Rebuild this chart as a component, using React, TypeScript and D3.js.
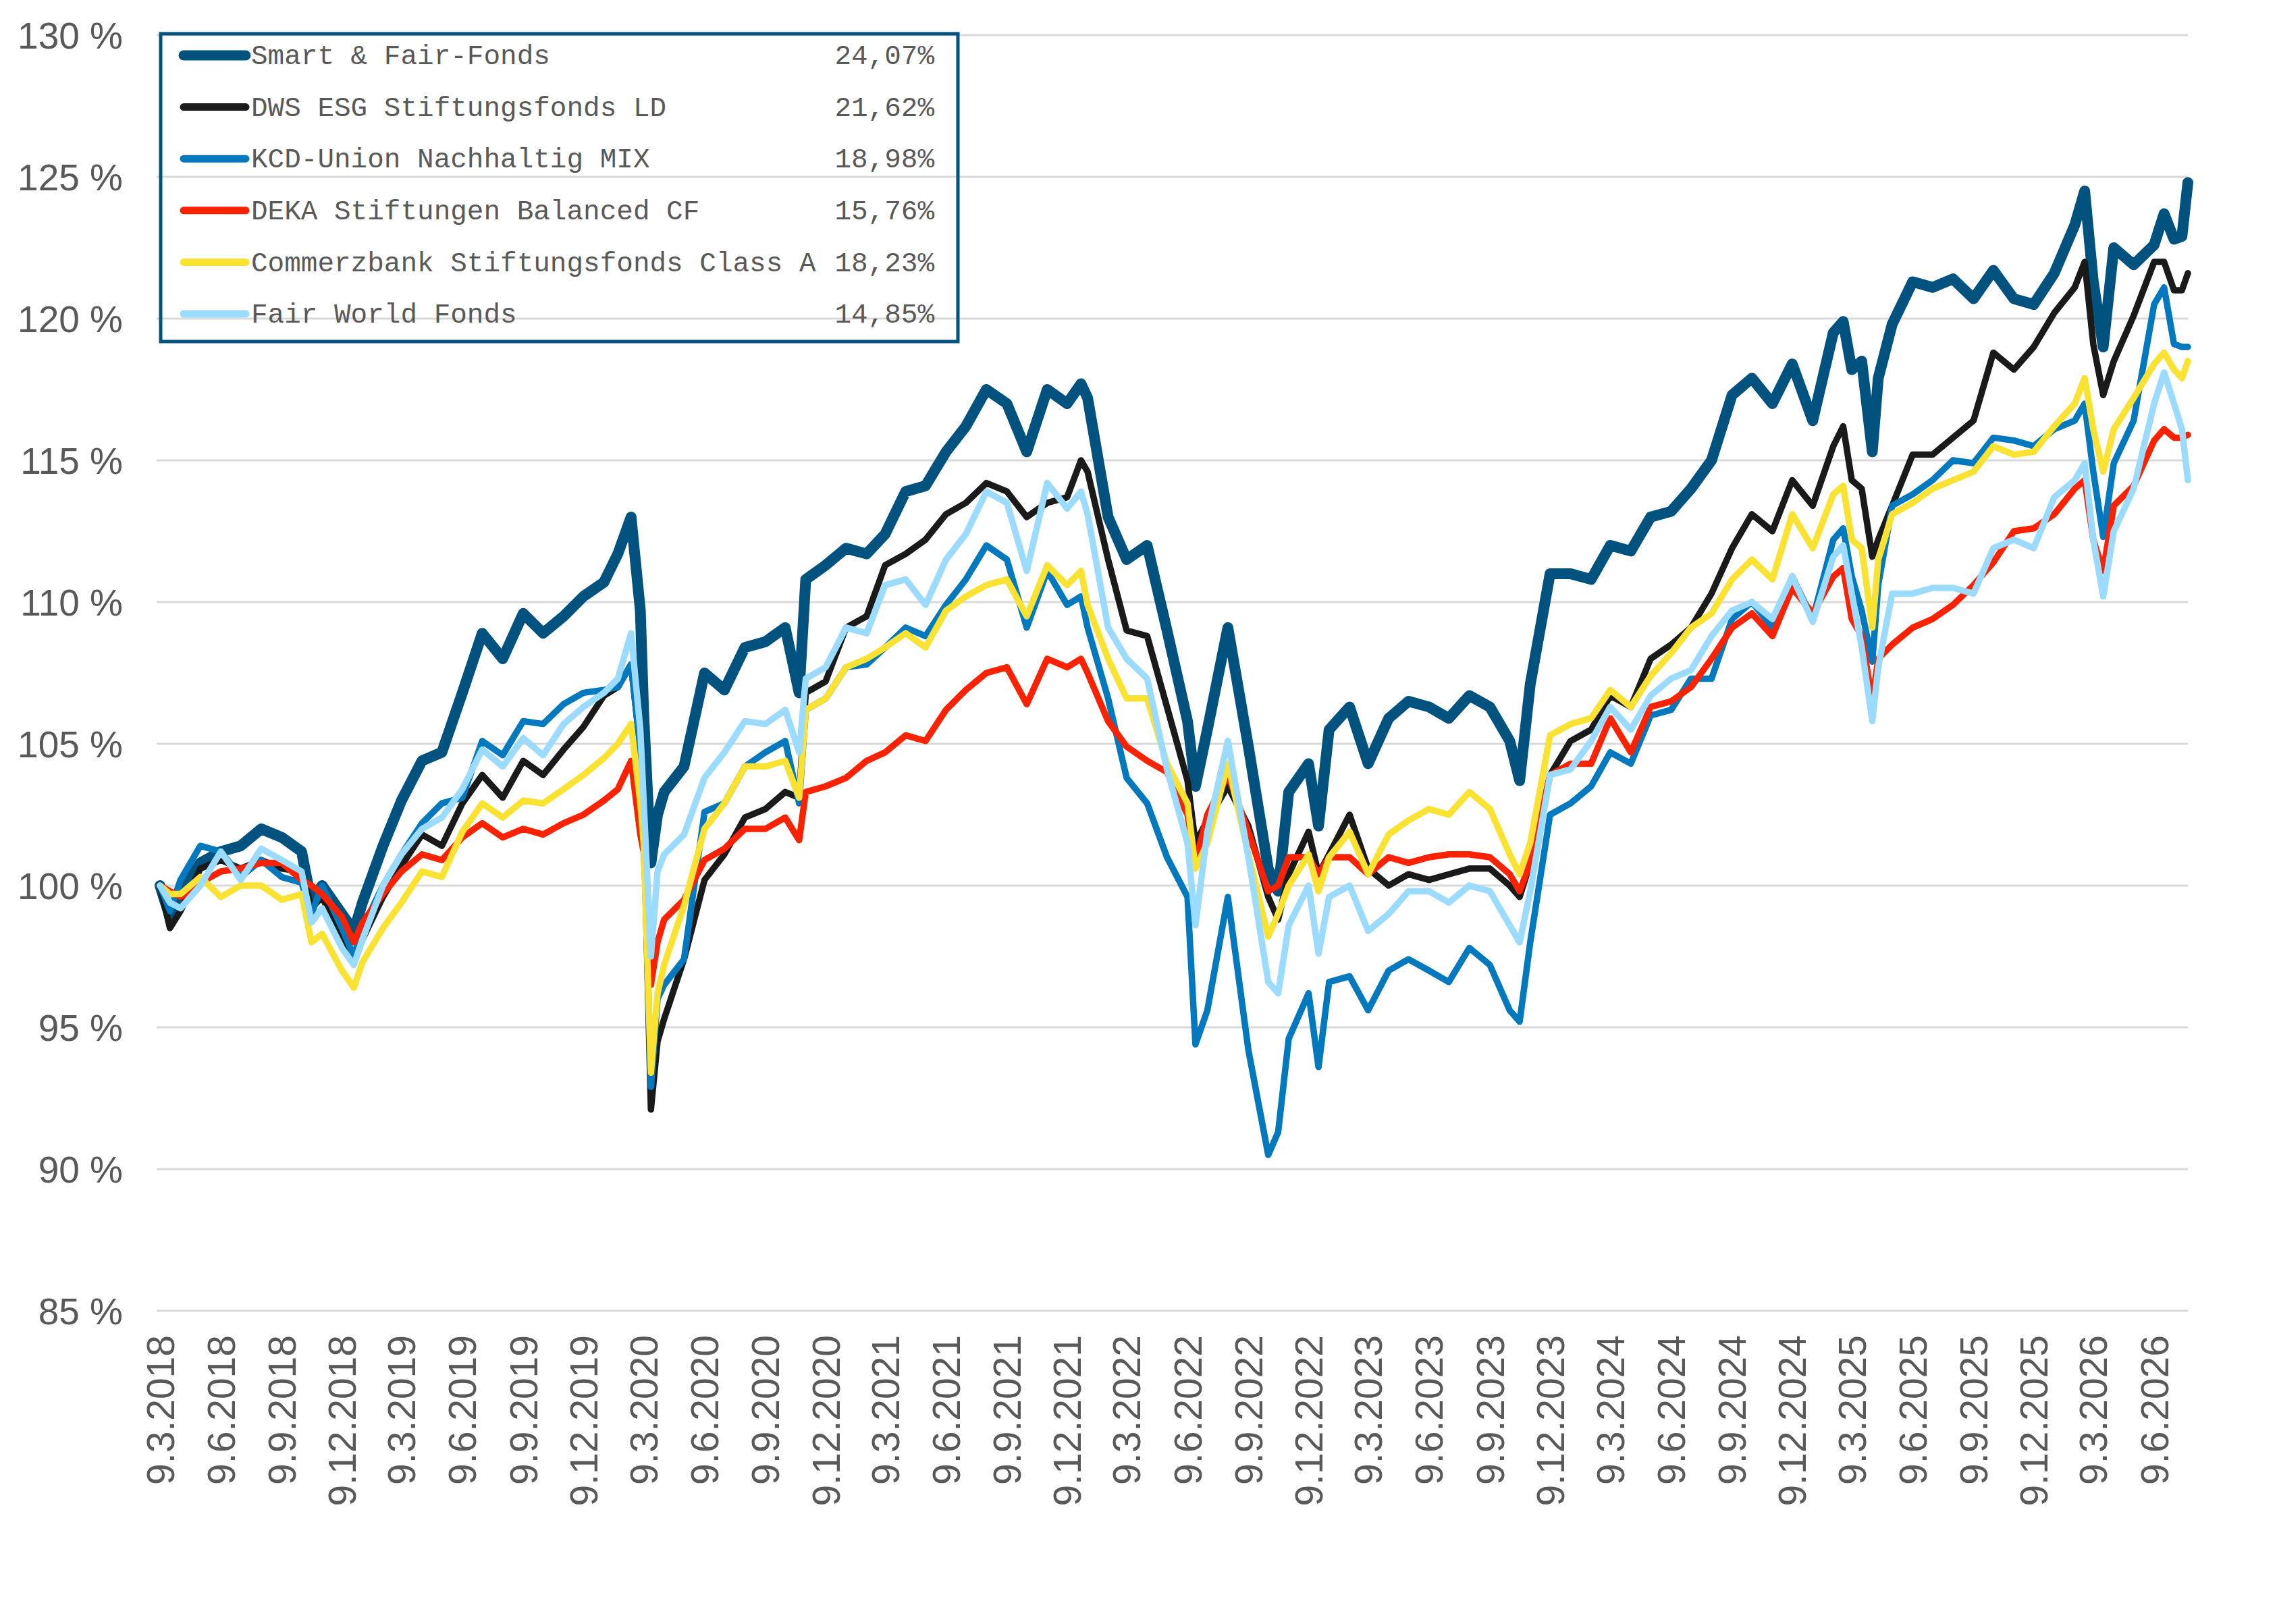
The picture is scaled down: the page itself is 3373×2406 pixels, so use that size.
import React, { useEffect, useRef } from 'react';
import * as d3 from 'd3';

// observation dates (mostly monthly, plus a few extra points around sharp moves)
const dates = [
  '2018-03-09', '2018-03-24', '2018-04-09', '2018-05-09', '2018-06-09', '2018-07-09', '2018-08-09', '2018-09-09',
  '2018-10-09', '2018-10-24', '2018-11-09', '2018-12-09', '2018-12-27', '2019-01-09', '2019-02-09', '2019-03-09',
  '2019-04-09', '2019-05-09', '2019-06-09', '2019-07-09', '2019-08-09', '2019-09-09', '2019-10-09', '2019-11-09',
  '2019-12-09', '2020-01-09', '2020-01-30', '2020-02-19', '2020-03-04', '2020-03-09', '2020-03-20', '2020-03-30',
  '2020-04-09', '2020-05-09', '2020-06-09', '2020-07-09', '2020-08-09', '2020-09-09', '2020-10-09', '2020-10-30',
  '2020-11-09', '2020-12-09', '2021-01-09', '2021-02-09', '2021-03-09', '2021-04-09', '2021-05-09', '2021-06-09',
  '2021-07-09', '2021-08-09', '2021-09-09', '2021-10-09', '2021-11-09', '2021-12-09', '2021-12-30', '2022-01-09',
  '2022-02-09', '2022-03-09', '2022-04-09', '2022-05-09', '2022-06-09', '2022-06-21', '2022-07-09', '2022-08-09',
  '2022-09-09', '2022-10-09', '2022-10-24', '2022-11-09', '2022-12-09', '2022-12-24', '2023-01-09', '2023-02-09',
  '2023-03-09', '2023-04-09', '2023-05-09', '2023-06-09', '2023-07-09', '2023-08-09', '2023-09-09', '2023-10-09',
  '2023-10-24', '2023-11-09', '2023-12-09', '2024-01-09', '2024-02-09', '2024-03-09', '2024-04-09', '2024-05-09',
  '2024-06-09', '2024-07-09', '2024-08-09', '2024-09-09', '2024-10-09', '2024-11-09', '2024-12-09', '2025-01-09',
  '2025-02-09', '2025-02-24', '2025-03-09', '2025-03-24', '2025-04-09', '2025-04-18', '2025-05-09', '2025-06-09',
  '2025-07-09', '2025-08-09', '2025-09-09', '2025-10-09', '2025-11-09', '2025-12-09', '2026-01-09', '2026-02-09',
  '2026-02-24', '2026-03-09', '2026-03-24', '2026-04-09', '2026-05-09', '2026-06-09', '2026-06-24', '2026-07-09',
  '2026-07-21', '2026-07-30',
];

const smartFair = [
  100, 98.9, 99.7, 100.8, 101.2, 101.4, 102.0, 101.7, 101.2, 99.4, 100.0, 99.0, 98.4, 99.4, 101.4, 103.0,
  104.4, 104.7, 106.8, 108.9, 108.0, 109.6, 108.9, 109.5, 110.2, 110.7, 111.7, 113.0, 109.7, 106.1, 100.8, 102.5,
  103.3, 104.2, 107.5, 106.9, 108.4, 108.6, 109.1, 106.8, 110.8, 111.3, 111.9, 111.7, 112.4, 113.9, 114.1, 115.3,
  116.2, 117.5, 117.0, 115.3, 117.5, 117.0, 117.7, 117.2, 113.0, 111.5, 112.0, 109.0, 105.8, 103.5, 105.5, 109.1,
  104.9, 100.6, 99.8, 103.3, 104.3, 102.1, 105.5, 106.3, 104.3, 105.9, 106.5, 106.3, 105.9, 106.7, 106.3, 105.1,
  103.7, 107.1, 111.0, 111.0, 110.8, 112.0, 111.8, 113.0, 113.2, 114.0, 115.0, 117.3, 117.9, 117.0, 118.4, 116.4,
  119.5, 119.9, 118.2, 118.5, 115.3, 117.9, 119.8, 121.3, 121.1, 121.4, 120.7, 121.7, 120.7, 120.5, 121.6, 123.3,
  124.5, 121.3, 119.0, 122.5, 121.9, 122.6, 123.7, 122.8, 122.9, 124.8,
];

const dwsEsg = [
  100, 98.5, 99.1, 100.6, 100.9, 100.6, 100.9, 100.6, 100.5, 99.2, 99.6, 98.1, 97.3, 98.1, 99.6, 100.7,
  101.8, 101.4, 102.9, 103.9, 103.1, 104.4, 103.9, 104.8, 105.6, 106.7, 107.0, 107.8, 104.8, 102.4, 92.1, 94.5,
  95.3, 97.4, 100.2, 101.1, 102.4, 102.7, 103.3, 103.1, 106.8, 107.2, 109.1, 109.5, 111.3, 111.7, 112.2, 113.1,
  113.5, 114.2, 113.9, 113.0, 113.5, 113.7, 115.0, 114.6, 111.5, 109.0, 108.8, 106.3, 103.7, 101.5, 102.3, 103.5,
  102.1, 99.6, 98.8, 100.4, 101.9, 100.4, 101.1, 102.5, 100.6, 100.0, 100.4, 100.2, 100.4, 100.6, 100.6, 100.0,
  99.6, 100.8, 103.9, 105.1, 105.5, 106.7, 106.3, 108.0, 108.5, 109.1, 110.3, 111.9, 113.1, 112.5, 114.3, 113.4,
  115.5, 116.2, 114.3, 114.0, 111.6, 112.2, 113.4, 115.2, 115.2, 115.8, 116.4, 118.8, 118.2, 119.0, 120.2, 121.1,
  122.0, 119.1, 117.3, 118.5, 120.1, 122.0, 122.0, 121.0, 121.0, 121.6,
];

const kcdUnion = [
  100, 99.1, 100.2, 101.4, 101.2, 100.3, 100.9, 100.3, 100.1, 99.0, 100.0, 98.5, 97.5, 98.5, 100.0, 101.1,
  102.2, 102.9, 103.1, 105.1, 104.6, 105.8, 105.7, 106.4, 106.8, 106.9, 107.0, 107.8, 104.8, 102.4, 92.9, 96.0,
  96.5, 97.4, 102.6, 102.9, 104.2, 104.7, 105.1, 102.9, 106.2, 106.6, 107.7, 107.8, 108.4, 109.1, 108.8, 109.9,
  110.8, 112.0, 111.5, 109.1, 111.1, 109.9, 110.2, 109.1, 106.6, 103.8, 102.9, 101.0, 99.6, 94.4, 95.6, 99.6,
  94.2, 90.5, 91.3, 94.6, 96.2, 93.6, 96.6, 96.8, 95.6, 97.0, 97.4, 97.0, 96.6, 97.8, 97.2, 95.6,
  95.2, 98.0, 102.5, 102.9, 103.5, 104.7, 104.3, 106.0, 106.2, 107.3, 107.3, 109.4, 110.0, 109.1, 110.9, 109.4,
  112.2, 112.6, 110.9, 109.7, 107.9, 110.6, 113.4, 113.8, 114.3, 115.0, 114.9, 115.8, 115.7, 115.5, 116.1, 116.4,
  117.0, 114.6, 112.3, 114.9, 116.4, 120.5, 121.1, 119.1, 119.0, 119.0,
];

const dekaBalanced = [
  100, 99.8, 99.6, 100.1, 100.5, 100.6, 100.8, 100.8, 100.2, 100.0, 99.7, 98.9, 98.0, 98.7, 99.7, 100.5,
  101.1, 100.9, 101.7, 102.2, 101.7, 102.0, 101.8, 102.2, 102.5, 103.0, 103.4, 104.4, 101.8, 101.2, 96.5, 98.0,
  98.8, 99.5, 100.9, 101.3, 102.0, 102.0, 102.4, 101.6, 103.3, 103.5, 103.8, 104.4, 104.7, 105.3, 105.1, 106.2,
  106.9, 107.5, 107.7, 106.4, 108.0, 107.7, 108.0, 107.5, 105.8, 104.9, 104.4, 104.0, 102.5, 100.8, 102.5, 103.9,
  101.9, 99.8, 100.0, 101.0, 101.0, 100.4, 101.0, 101.0, 100.4, 101.0, 100.8, 101.0, 101.1, 101.1, 101.0, 100.4,
  99.8, 100.8, 103.9, 104.3, 104.3, 105.9, 104.7, 106.3, 106.5, 107.0, 108.0, 109.1, 109.6, 108.8, 110.5, 109.6,
  110.9, 111.2, 109.4, 108.8, 106.5, 108.0, 108.5, 109.1, 109.4, 109.9, 110.6, 111.4, 112.5, 112.6, 113.1, 114.0,
  114.3, 112.2, 111.1, 113.4, 114.1, 115.7, 116.1, 115.8, 115.8, 115.9,
];

const commerzbank = [
  100, 99.7, 99.7, 100.3, 99.6, 100.0, 100.0, 99.5, 99.7, 98.0, 98.3, 97.0, 96.4, 97.3, 98.5, 99.4,
  100.5, 100.3, 101.9, 102.9, 102.4, 103.0, 102.9, 103.4, 103.9, 104.5, 105.0, 105.7, 102.9, 101.5, 93.4, 96.2,
  97.2, 99.3, 102.0, 102.9, 104.2, 104.2, 104.4, 103.1, 106.2, 106.6, 107.7, 108.0, 108.4, 108.9, 108.4, 109.7,
  110.2, 110.6, 110.8, 109.5, 111.3, 110.6, 111.1, 109.9, 108.0, 106.6, 106.6, 104.3, 102.9, 100.6, 101.5, 104.3,
  101.1, 98.2, 99.0, 100.0, 101.1, 99.8, 101.0, 101.9, 100.4, 101.8, 102.3, 102.7, 102.5, 103.3, 102.7, 101.1,
  100.4, 101.5, 105.3, 105.7, 105.9, 106.9, 106.3, 107.4, 108.2, 109.1, 109.6, 110.8, 111.5, 110.8, 113.1, 111.9,
  113.8, 114.1, 112.2, 111.9, 109.1, 111.5, 113.1, 113.5, 114.0, 114.3, 114.6, 115.5, 115.2, 115.3, 116.2, 117.0,
  117.9, 116.1, 114.6, 116.1, 117.2, 118.4, 118.8, 118.2, 117.9, 118.5,
];

const fairWorld = [
  100, 99.4, 99.2, 100.0, 101.2, 100.2, 101.3, 100.9, 100.5, 98.7, 99.2, 97.8, 97.2, 98.1, 100.0, 101.1,
  102.0, 102.4, 103.4, 104.8, 104.2, 105.2, 104.6, 105.7, 106.3, 106.8, 107.3, 108.9, 105.5, 103.0, 97.5, 100.5,
  101.1, 101.8, 103.8, 104.7, 105.8, 105.7, 106.2, 104.7, 107.3, 107.7, 109.1, 108.9, 110.6, 110.8, 109.9, 111.5,
  112.4, 113.9, 113.5, 111.1, 114.2, 113.3, 113.9, 113.1, 109.1, 108.0, 107.3, 104.1, 101.5, 98.6, 101.9, 105.1,
  101.0, 96.6, 96.2, 98.6, 100.0, 97.6, 99.6, 100.0, 98.4, 99.0, 99.8, 99.8, 99.4, 100.0, 99.8, 98.6,
  98.0, 99.8, 103.9, 104.1, 105.1, 106.3, 105.5, 106.7, 107.3, 107.6, 108.8, 109.7, 110.0, 109.4, 110.9, 109.3,
  111.6, 112.0, 110.3, 108.4, 105.8, 107.7, 110.3, 110.3, 110.5, 110.5, 110.3, 111.9, 112.2, 111.9, 113.7, 114.3,
  114.9, 112.2, 110.2, 112.5, 114.0, 117.0, 118.1, 117.0, 116.1, 114.3,
];

const seriesNames = [
  'Smart & Fair-Fonds',
  'DWS ESG Stiftungsfonds LD',
  'KCD-Union Nachhaltig MIX',
  'DEKA Stiftungen Balanced CF',
  'Commerzbank Stiftungsfonds Class A',
  'Fair World Fonds',
];
const seriesReturns = ['24,07%', '21,62%', '18,98%', '15,76%', '18,23%', '14,85%'];
const seriesValues = [smartFair, dwsEsg, kcdUnion, dekaBalanced, commerzbank, fairWorld];
const seriesColors = ['#02527f', '#1a1a1a', '#0279be', '#fa2200', '#f9e232', '#9bdbff'];
const seriesWidths = [16, 9.5, 9.5, 9.5, 9.5, 9.5];

const yTicks = [85, 90, 95, 100, 105, 110, 115, 120, 125, 130];
const xTicks = [
  '2018-03-09', '2018-06-09', '2018-09-09', '2018-12-09', '2019-03-09', '2019-06-09', '2019-09-09', '2019-12-09',
  '2020-03-09', '2020-06-09', '2020-09-09', '2020-12-09', '2021-03-09', '2021-06-09', '2021-09-09', '2021-12-09',
  '2022-03-09', '2022-06-09', '2022-09-09', '2022-12-09', '2023-03-09', '2023-06-09', '2023-09-09', '2023-12-09',
  '2024-03-09', '2024-06-09', '2024-09-09', '2024-12-09', '2025-03-09', '2025-06-09', '2025-09-09', '2025-12-09',
  '2026-03-09', '2026-06-09',
];

const WIDTH = 3373;
const HEIGHT = 2406;
const labelFont = '"Liberation Sans", Arial, Helvetica, sans-serif';
const monoFont = '"Liberation Mono", "Courier New", monospace';
const textColor = '#595959';

const parse = d3.timeParse('%Y-%m-%d');

const Chart: React.FC = () => {
  const svgRef = useRef<SVGSVGElement | null>(null);

  useEffect(() => {
    if (svgRef.current === null) {
      return;
    }
    document.body.style.margin = '0';

    const svg = d3.select(svgRef.current);
    svg.selectAll('*').remove();

    const parsedDates = dates.map((d) => parse(d) as Date);
    const x = d3
      .scaleTime()
      .domain([parsedDates[0], parsedDates[parsedDates.length - 1]])
      .range([237, 3241]);
    const y = d3.scaleLinear().domain([85, 130]).range([1942, 52]);

    // horizontal grid
    svg
      .append('g')
      .selectAll('line')
      .data(yTicks)
      .join('line')
      .attr('x1', 232)
      .attr('x2', 3241)
      .attr('y1', (d) => y(d))
      .attr('y2', (d) => y(d))
      .attr('stroke', '#d9d9d9')
      .attr('stroke-width', 3);

    // y labels
    svg
      .append('g')
      .style('font', `55px ${labelFont}`)
      .attr('fill', textColor)
      .attr('text-anchor', 'end')
      .selectAll('text')
      .data(yTicks)
      .join('text')
      .attr('x', 182)
      .attr('y', (d) => y(d))
      .attr('dy', '0.36em')
      .text((d) => `${d} %`);

    // x labels, rotated
    svg
      .append('g')
      .style('font', `57px ${labelFont}`)
      .attr('fill', textColor)
      .attr('text-anchor', 'end')
      .selectAll('text')
      .data(xTicks.map((d) => parse(d) as Date))
      .join('text')
      .attr('transform', (d) => `translate(${x(d)},1978) rotate(-90)`)
      .attr('dy', '0.36em')
      .text((d) => `${d.getDate()}.${d.getMonth() + 1}.${d.getFullYear()}`);

    // lines
    const line = d3
      .line<number>()
      .x((_, i) => x(parsedDates[i]))
      .y((d) => y(d));

    svg
      .append('g')
      .attr('fill', 'none')
      .attr('stroke-linejoin', 'round')
      .attr('stroke-linecap', 'round')
      .selectAll('path')
      .data(seriesValues)
      .join('path')
      .attr('stroke', (_, i) => seriesColors[i])
      .attr('stroke-width', (_, i) => seriesWidths[i])
      .attr('d', (d) => line(d));

    // legend
    const legend = svg.append('g');
    legend
      .append('rect')
      .attr('x', 238)
      .attr('y', 50)
      .attr('width', 1181)
      .attr('height', 456)
      .attr('fill', 'none')
      .attr('stroke', '#02527f')
      .attr('stroke-width', 5);

    const rowY = (i: number) => 82 + i * 76.6;
    const rows = legend
      .selectAll('g')
      .data(seriesNames)
      .join('g')
      .attr('transform', (_, i) => `translate(0,${rowY(i)})`);

    rows
      .append('line')
      .attr('x1', 272)
      .attr('x2', 364)
      .attr('stroke', (_, i) => seriesColors[i])
      .attr('stroke-width', (_, i) => (i === 0 ? 15 : 11))
      .attr('stroke-linecap', 'round');

    rows
      .append('text')
      .attr('x', 372)
      .attr('dy', '0.32em')
      .style('font', `41px ${monoFont}`)
      .attr('fill', textColor)
      .text((d) => d);

    rows
      .append('text')
      .attr('x', 1384)
      .attr('dy', '0.32em')
      .attr('text-anchor', 'end')
      .style('font', `41px ${monoFont}`)
      .attr('fill', textColor)
      .text((_, i) => seriesReturns[i]);
  }, []);

  return <svg ref={svgRef} width={WIDTH} height={HEIGHT} style={{ display: 'block', background: '#fff' }}></svg>;
};

export default function App() {
  return <Chart />;
}
